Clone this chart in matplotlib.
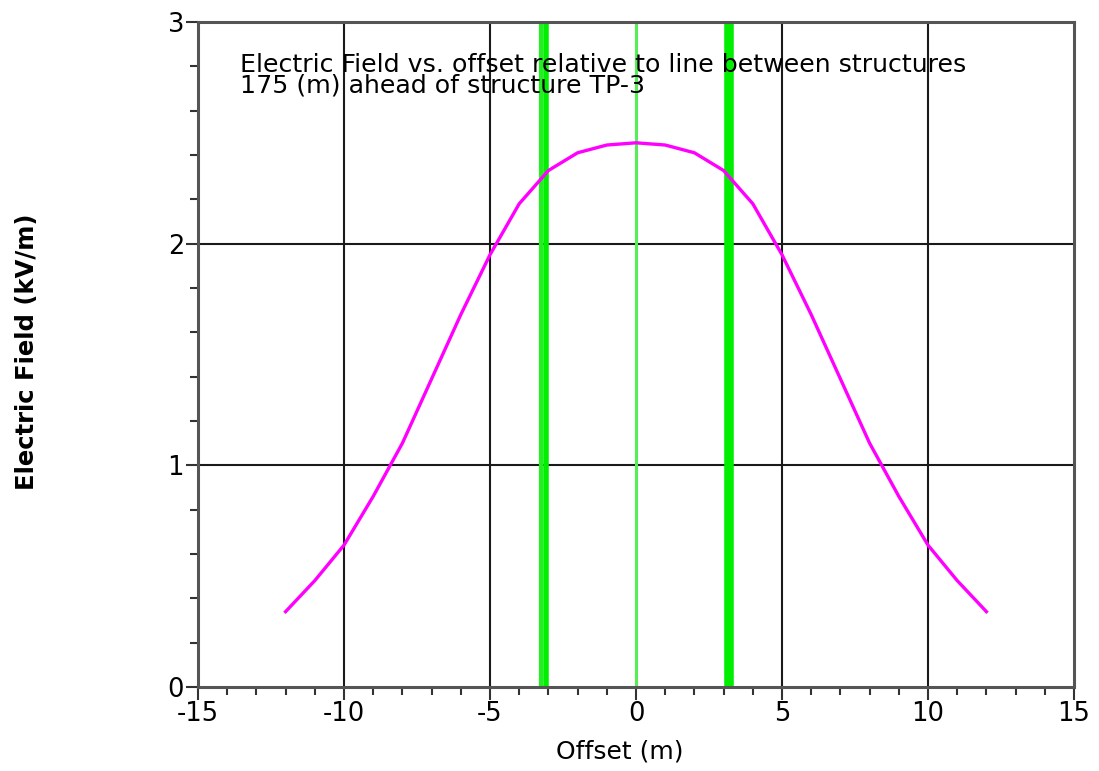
import matplotlib
matplotlib.use("Agg")
import matplotlib.pyplot as plt
from matplotlib.ticker import MultipleLocator

# Data
offset = [-12, -11, -10, -9, -8, -7, -6, -5, -4, -3, -2, -1, 0,
          1, 2, 3, 4, 5, 6, 7, 8, 9, 10, 11, 12]
field = [0.34, 0.48, 0.64, 0.86, 1.10, 1.39, 1.68, 1.95, 2.18, 2.33, 2.41, 2.445, 2.455,
         2.445, 2.41, 2.33, 2.18, 1.95, 1.68, 1.39, 1.10, 0.86, 0.64, 0.48, 0.34]
left_conductor_x = [-3.27, -3.07]
right_conductor_x = [3.1, 3.25]
center_x = [0.0]
x_ticks = [-15, -10, -5, 0, 5, 10, 15]
y_ticks = [0, 1, 2, 3]
title_lines = ["Electric Field vs. offset relative to line between structures",
               "175 (m) ahead of structure TP-3"]

plt.rcParams['font.family'] = ['DejaVu Sans']

fig = plt.figure(figsize=(10.99, 7.71), dpi=100)
ax = fig.add_axes([198/1099, 1-687/771, (1074-198)/1099, (687-22)/771])

ax.set_xlim(-15, 15)
ax.set_ylim(0, 3)

# grid
for gx in [-10, -5, 5, 10]:
    ax.axvline(gx, color='#1a1a1a', lw=1.5, zorder=1)
for gy in [1, 2]:
    ax.axhline(gy, color='#1a1a1a', lw=1.5, zorder=1)

# green structure lines
ax.axvline(left_conductor_x[0], color='#22ee22', lw=3.0, zorder=2)
ax.axvline(left_conductor_x[1], color='#00ee00', lw=4.0, zorder=2)
for cx in right_conductor_x:
    ax.axvline(cx, color='#00ee00', lw=4.0, zorder=2)
for cx in center_x:
    ax.axvline(cx, color='#55ee55', lw=2.2, zorder=2)

ax.plot(offset, field, color='#ff00ff', lw=2.4, zorder=3)

ax.set_xticks(x_ticks)
ax.set_yticks(y_ticks)
ax.set_xticklabels([str(v) for v in x_ticks])
ax.set_yticklabels([str(v) for v in y_ticks])
ax.xaxis.set_minor_locator(MultipleLocator(1))
ax.yaxis.set_minor_locator(MultipleLocator(0.2))
ax.tick_params(axis='both', which='major', direction='out', length=9, width=1.5,
               color='#333333', labelsize=18.5, pad=1)
ax.tick_params(axis='both', which='minor', direction='out', length=6, width=1.5,
               color='#333333')
for sp in ax.spines.values():
    sp.set_color('#555555')
    sp.set_linewidth(2.2)

ax.text(240/1099, 1-53/771, "\n".join(title_lines), transform=fig.transFigure,
        fontsize=18.2, va='top', ha='left', linespacing=0.82, zorder=5)

fig.text(620/1099, 1-752/771, "Offset (m)", fontsize=18, ha='center', va='center')
fig.text(27/1099, 1-352/771, "Electric Field (kV/m)", fontsize=17.5, ha='center',
         va='center', rotation=90, fontweight='bold')

fig.savefig("out.png", dpi=100)
